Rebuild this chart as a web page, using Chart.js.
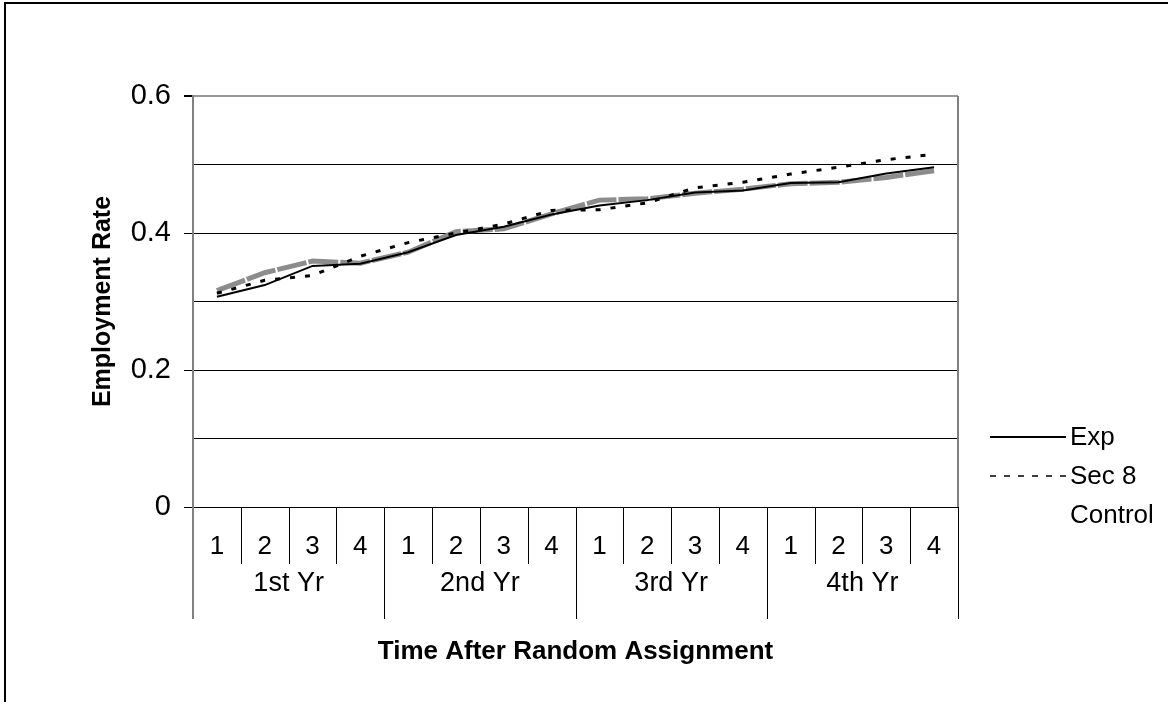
<!DOCTYPE html>
<html>
<head>
<meta charset="utf-8">
<script src="https://cdn.jsdelivr.net/npm/chart.js@4.4.1/dist/chart.umd.min.js"></script>
<style>
    body { margin: 0; background: #fff; }
    canvas { display: block; }
</style>
</head>
<body>
<canvas id="chart" width="1168" height="702"></canvas>
<script>
// quarters within each year, and the year groups
const quarters = ["1", "2", "3", "4", "1", "2", "3", "4", "1", "2", "3", "4", "1", "2", "3", "4"];
const years = ["1st Yr", "2nd Yr", "3rd Yr", "4th Yr"];

// employment rate
const expValues = [0.307, 0.324, 0.352, 0.355, 0.372, 0.397, 0.409, 0.427, 0.440, 0.448, 0.459, 0.462, 0.473, 0.474, 0.487, 0.496];
const sec8Values = [0.312, 0.331, 0.338, 0.366, 0.386, 0.400, 0.413, 0.433, 0.434, 0.444, 0.466, 0.474, 0.486, 0.496, 0.507, 0.515];
const controlValues = [0.316, 0.342, 0.359, 0.356, 0.372, 0.402, 0.406, 0.428, 0.448, 0.450, 0.458, 0.464, 0.472, 0.474, 0.481, 0.491];

const FONT = "'Liberation Sans', Arial, sans-serif";

const extras = {
    id: 'extras',
    afterDraw(chart) {
        const ctx = chart.ctx;
        const area = chart.chartArea;
        const x = chart.scales.x;
        const n = quarters.length;
        const step = (area.right - area.left) / n;

        ctx.save();

        // outer frame
        ctx.strokeStyle = '#000';
        ctx.lineWidth = 2;
        ctx.strokeRect(5, 3, 1300, 900);

        // right border of the plot
        ctx.strokeStyle = '#808080';
        ctx.lineWidth = 2;
        ctx.beginPath();
        ctx.moveTo(area.right, area.top);
        ctx.lineTo(area.right, area.bottom);
        ctx.stroke();

        // category separators below the axis
        ctx.strokeStyle = '#000';
        ctx.lineWidth = 1;
        for (let i = 0; i <= n; i++) {
            const px = Math.round(x.getPixelForValue(i) - step / 2) + 0.5;
            const isYear = i % 4 === 0;
            ctx.beginPath();
            ctx.moveTo(px, area.bottom);
            ctx.lineTo(px, isYear ? area.bottom + 112 : area.bottom + 57);
            ctx.stroke();
        }
        // left axis continues down
        ctx.strokeStyle = '#808080';
        ctx.lineWidth = 2;
        ctx.beginPath();
        ctx.moveTo(area.left, area.bottom);
        ctx.lineTo(area.left, area.bottom + 112);
        ctx.stroke();

        // year labels
        ctx.fillStyle = '#000';
        ctx.font = "27px " + FONT;
        ctx.textAlign = 'center';
        ctx.textBaseline = 'middle';
        years.forEach((year, i) => {
            const cx = (x.getPixelForValue(i * 4) + x.getPixelForValue(i * 4 + 3)) / 2;
            ctx.fillText(year, cx, area.bottom + 77);
        });

        // axis titles
        ctx.font = "bold 26px " + FONT;
        ctx.fillText("Time After Random Assignment", (area.left + area.right) / 2, 652);
        ctx.save();
        ctx.translate(103, (area.top + area.bottom) / 2);
        ctx.rotate(-Math.PI / 2);
        ctx.font = "bold 25px " + FONT;
        ctx.fillText("Employment Rate", 0, 0);
        ctx.restore();

        // legend
        const legendY = [437, 476, 515];
        ctx.font = "26px " + FONT;
        ctx.textAlign = 'left';
        chart.data.datasets.forEach((ds, i) => {
            const y = legendY[i];
            if (ds.label !== "Control") {
                ctx.strokeStyle = ds.borderColor;
                ctx.lineWidth = i === 0 ? 2 : 1.5;
                ctx.setLineDash(i === 1 ? [6, 8] : []);
                ctx.beginPath();
                ctx.moveTo(990, y);
                ctx.lineTo(1066, y);
                ctx.stroke();
                ctx.setLineDash([]);
            }
            ctx.fillStyle = '#000';
            ctx.fillText(ds.label, 1070, y + 1);
        });

        ctx.restore();
    }
};

new Chart(document.getElementById("chart"), {
    type: 'line',
    data: {
        labels: quarters,
        datasets: [
            {
                label: 'Exp',
                data: expValues,
                borderColor: '#000',
                borderWidth: 2,
                pointRadius: 0,
                tension: 0,
                order: 0
            },
            {
                label: 'Sec 8',
                data: sec8Values,
                borderColor: '#000',
                borderWidth: 3,
                borderDash: [5, 10],
                pointRadius: 0,
                tension: 0,
                order: 1
            },
            {
                label: 'Control',
                data: controlValues,
                borderColor: '#8c8c8c',
                borderWidth: 5,
                borderDash: [30, 2],
                pointRadius: 0,
                tension: 0,
                order: 2
            }
        ]
    },
    options: {
        responsive: false,
        animation: false,
        devicePixelRatio: 1,
        layout: {
            padding: { left: 0, right: 210, top: 96, bottom: 0 }
        },
        plugins: {
            legend: { display: false },
            tooltip: { enabled: false }
        },
        scales: {
            x: {
                offset: true,
                grid: { display: false, drawTicks: false },
                border: { display: false },
                ticks: {
                    color: '#000',
                    padding: 24,
                    maxRotation: 0,
                    autoSkip: false,
                    font: { size: 26, family: FONT }
                },
                afterFit: scale => { scale.height = 195; }
            },
            y: {
                min: 0,
                max: 0.6,
                border: { color: '#808080', width: 2 },
                grid: {
                    color: c => c.tick && Math.abs(c.tick.value - 0.6) < 1e-6 ? '#999' : '#000',
                    lineWidth: c => c.tick && Math.abs(c.tick.value - 0.6) < 1e-6 ? 2 : 1,
                    tickColor: c => c.tick && Math.round(c.tick.value * 10) % 2 === 0 ? '#000' : 'rgba(0,0,0,0)',
                    tickLength: 9
                },
                ticks: {
                    stepSize: 0.1,
                    color: '#000',
                    padding: 13,
                    font: { size: 29, family: FONT },
                    callback: v => {
                        const k = Math.round(v * 10);
                        if (k % 2 !== 0) return '';
                        return k === 0 ? '0' : (k / 10).toFixed(1);
                    }
                },
                afterFit: scale => { scale.width = 193; }
            }
        }
    },
    plugins: [extras]
});
</script>
</body>
</html>
